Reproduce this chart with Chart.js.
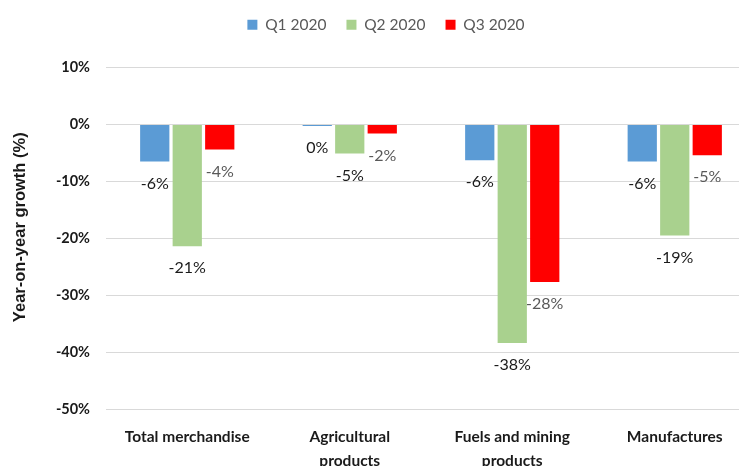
<!DOCTYPE html>
<html>
<head>
<meta charset="utf-8">
<script src="https://cdn.jsdelivr.net/npm/chart.js@4/dist/chart.umd.min.js"></script>
<style>
  html, body { margin: 0; padding: 0; background: #fff; overflow: hidden; width: 739px; height: 466px; }
  #wrap { position: absolute; left: 0; top: 0; width: 756px; height: 482px; }
</style>
</head>
<body>
<div id="wrap"><canvas id="c"></canvas></div>
<script>
const categories = [
  "Total merchandise",
  ["Agricultural", "products"],
  ["Fuels and mining", "products"],
  "Manufactures"
];
const seriesNames = ["Q1 2020", "Q2 2020", "Q3 2020"];
const q1 = [-6.5, -0.3, -6.3, -6.5];
const q2 = [-21.4, -5.1, -38.4, -19.5];
const q3 = [-4.4, -1.6, -27.7, -5.4];
const yTicks = [10, 0, -10, -20, -30, -40, -50];
const yTitle = "Year-on-year growth (%)";
const colors = ["#5B9BD5", "#A9D18E", "#FF0000"];
const labelColors = ["#1a1a1a", "#1a1a1a", "#595959"];

const FONT = "Lato, 'Open Sans', sans-serif";

const valueLabels = {
  id: 'valueLabels',
  afterDatasetsDraw(chart) {
    const ctx = chart.ctx;
    ctx.save();
    ctx.font = "16px " + FONT;
    ctx.textAlign = "center";
    ctx.textBaseline = "middle";
    chart.data.datasets.forEach((ds, i) => {
      const meta = chart.getDatasetMeta(i);
      meta.data.forEach((el, j) => {
        const v = ds.data[j];
        const r = Math.round(v);
        const txt = (Object.is(r, -0) ? 0 : r) + "%";
        ctx.fillStyle = labelColors[i];
        ctx.fillText(txt, el.x, el.y + 22);
      });
    });
    ctx.restore();
  }
};

const axisTitle = {
  id: 'axisTitle',
  afterDraw(chart) {
    const ctx = chart.ctx;
    const ca = chart.chartArea;
    ctx.save();
    ctx.translate(20, (ca.top + ca.bottom) / 2 - 11);
    ctx.rotate(-Math.PI / 2);
    ctx.font = "bold 16.5px 'Liberation Sans', Arial, sans-serif";
    ctx.fillStyle = "#1a1a1a";
    ctx.textAlign = "center";
    ctx.textBaseline = "middle";
    ctx.fillText(yTitle, 0, 0);
    ctx.restore();
  }
};

const legendSpace = {
  id: 'legendSpace',
  beforeInit(chart) {
    const origFit = chart.legend.fit;
    chart.legend.fit = function () {
      origFit.bind(chart.legend)();
      this.height += 22;
    };
  },
  afterLayout(chart) {
    chart.legend.top -= 3;
  }
};

new Chart(document.getElementById('c'), {
  type: 'bar',
  data: {
    labels: categories,
    datasets: [
      { label: seriesNames[0], data: q1, backgroundColor: colors[0] },
      { label: seriesNames[1], data: q2, backgroundColor: colors[1] },
      { label: seriesNames[2], data: q3, backgroundColor: colors[2] }
    ]
  },
  options: {
    responsive: true,
    maintainAspectRatio: false,
    animation: false,
    layout: { padding: { left: 16, right: 0, top: 0, bottom: 0 } },
    datasets: { bar: { categoryPercentage: 0.6, barPercentage: 0.9 } },
    plugins: {
      legend: {
        position: 'top',
        labels: {
          font: { family: FONT, size: 15.5 },
          color: "#595959",
          boxWidth: 10,
          boxHeight: 10,
          padding: 20
        }
      },
      tooltip: { enabled: false }
    },
    scales: {
      x: {
        grid: { display: false, drawBorder: false },
        border: { display: false },
        ticks: {
          font: { family: FONT, size: 15.5, weight: 'bold', lineHeight: 1.55 },
          color: "#1a1a1a",
          maxRotation: 0,
          autoSkip: false,
          padding: 8
        },
        afterFit(scale) { scale.height = 73; }
      },
      y: {
        min: -50,
        max: 10,
        afterBuildTicks(scale) { scale.ticks = yTicks.map(v => ({ value: v })); },
        grid: { color: "#D9D9D9", lineWidth: 1, drawTicks: false },
        border: { display: false },
        ticks: {
          font: { family: FONT, size: 14.5, weight: 'bold' },
          color: "#1a1a1a",
          padding: 16,
          callback: v => v + "%"
        },
        title: { display: false },
        afterFit(scale) { scale.width = 90; }
      }
    }
  },
  plugins: [valueLabels, legendSpace, axisTitle]
});
</script>
</body>
</html>
